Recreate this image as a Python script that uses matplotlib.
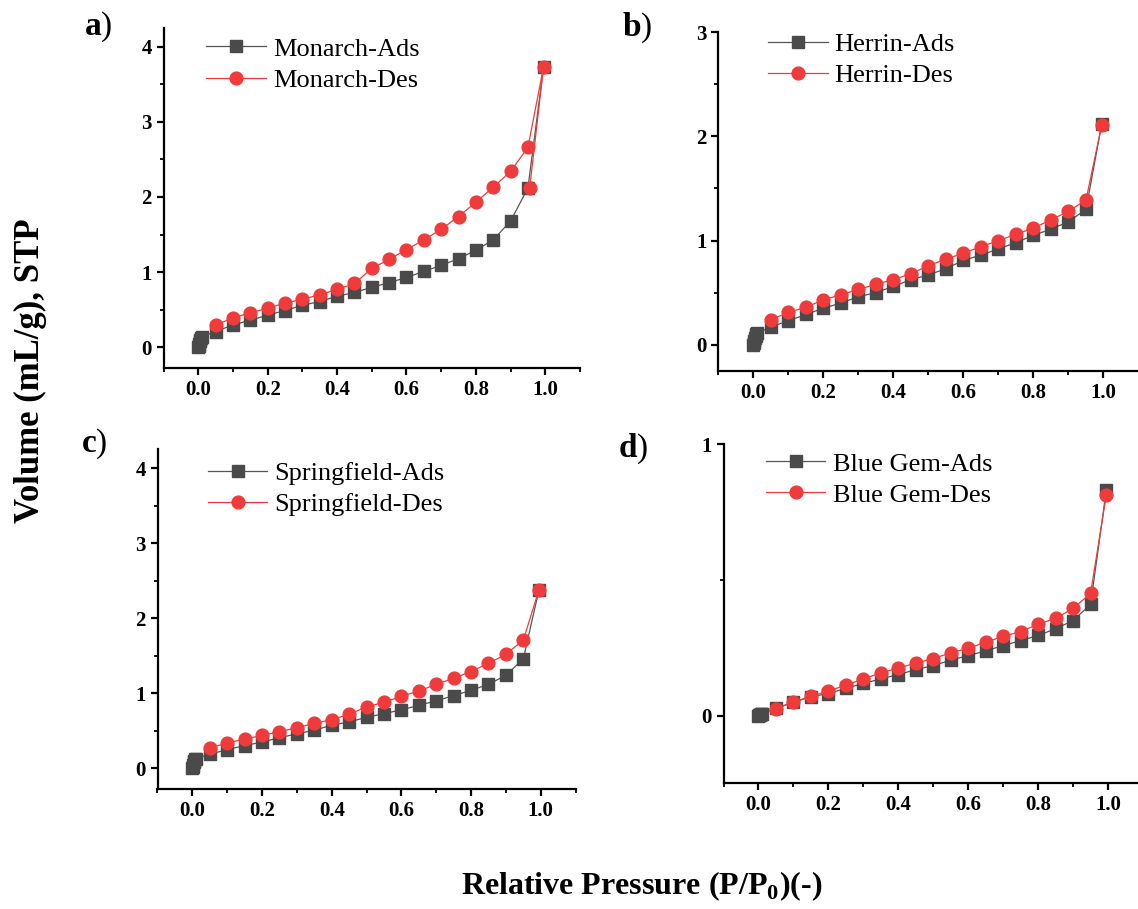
import matplotlib
matplotlib.use("Agg")
import matplotlib.pyplot as plt
from matplotlib.ticker import MultipleLocator

plt.rcParams['font.family'] = ['Liberation Serif', 'DejaVu Serif']
plt.rcParams['mathtext.fontset'] = 'custom'
plt.rcParams['mathtext.rm'] = 'Liberation Serif'
plt.rcParams['mathtext.bf'] = 'Liberation Serif:bold'

# relative pressure points
p_low = [0.0, 0.001, 0.002, 0.004, 0.006, 0.008, 0.01]
p_mid = [0.05, 0.10, 0.15, 0.20, 0.25, 0.30, 0.35, 0.40, 0.45, 0.50,
         0.55, 0.60, 0.65, 0.70, 0.75, 0.80, 0.85, 0.90, 0.95]
p_top = [0.995]
p_des = [0.995, 0.95, 0.90, 0.85, 0.80, 0.75, 0.70, 0.65, 0.60, 0.55,
         0.50, 0.45, 0.40, 0.35, 0.30, 0.25, 0.20, 0.15, 0.10, 0.05]

names = ["Monarch", "Herrin", "Springfield", "Blue Gem"]
letters = ["a", "b", "c", "d"]

monarch_ads = [0.0, 0.02, 0.05, 0.08, 0.10, 0.12, 0.14,
               0.21, 0.30, 0.36, 0.43, 0.49, 0.56, 0.61, 0.68, 0.73, 0.80,
               0.86, 0.93, 1.01, 1.09, 1.18, 1.29, 1.43, 1.68, 2.12, 3.73]
monarch_des_p = [0.955] + p_des
monarch_des = [2.12, 3.73, 2.66, 2.34, 2.13, 1.93, 1.74, 1.57, 1.43, 1.30, 1.17,
               1.05, 0.85, 0.77, 0.70, 0.64, 0.59, 0.52, 0.46, 0.39, 0.30]

herrin_ads = [0.0, 0.02, 0.04, 0.06, 0.08, 0.10, 0.11,
              0.17, 0.23, 0.29, 0.35, 0.40, 0.46, 0.50, 0.56, 0.625, 0.67,
              0.73, 0.81, 0.86, 0.92, 0.98, 1.05, 1.11, 1.18, 1.30, 2.12]
herrin_des = [2.11, 1.39, 1.28, 1.20, 1.12, 1.06, 1.00, 0.94, 0.88, 0.82,
              0.76, 0.68, 0.625, 0.58, 0.53, 0.48, 0.43, 0.36, 0.31, 0.24]

spring_ads = [0.0, 0.02, 0.05, 0.08, 0.10, 0.12, 0.13,
              0.19, 0.25, 0.305, 0.35, 0.41, 0.46, 0.51, 0.575, 0.62, 0.68,
              0.73, 0.78, 0.84, 0.90, 0.97, 1.04, 1.12, 1.24, 1.46, 2.38]
spring_des = [2.38, 1.71, 1.52, 1.40, 1.29, 1.20, 1.12, 1.03, 0.96, 0.88,
              0.82, 0.72, 0.65, 0.60, 0.54, 0.49, 0.44, 0.39, 0.34, 0.27]

bluegem_ads = [0.0, 0.001, 0.002, 0.003, 0.004, 0.005, 0.006,
               0.027, 0.049, 0.069, 0.081, 0.10, 0.118, 0.135, 0.151, 0.169, 0.184,
               0.204, 0.221, 0.238, 0.258, 0.276, 0.295, 0.32, 0.35, 0.41, 0.83]
bluegem_des = [0.813, 0.45, 0.395, 0.358, 0.337, 0.309, 0.292, 0.27, 0.248, 0.231,
               0.21, 0.193, 0.175, 0.157, 0.135, 0.112, 0.09, 0.071, 0.049, 0.025]

ads_p = p_low + p_mid + p_top
ads_list = [monarch_ads, herrin_ads, spring_ads, bluegem_ads]
des_p_list = [monarch_des_p, p_des, p_des, p_des]
des_list = [monarch_des, herrin_des, spring_des, bluegem_des]

ylims = [(-0.27, 4.25), (-0.25, 3.0), (-0.27, 4.25), (-0.25, 1.0)]

W, H = 1138, 909
# axes boxes in pixels: left, top, right, bottom
boxes = [(163.6, 27.7, 580.0, 367.7),
         (718.4, 32.3, 1138.5, 370.7),
         (157.5, 449.3, 575.6, 788.7),
         (723.5, 444.3, 1143.0, 783.3)]
leg_anchor = [(0.103, 0.972), (0.119, 1.0), (0.121, 0.964), (0.102, 0.977)]
letter_pos = [(84, 35), (622, 36), (81, 452), (618, 457)]

ads_color = '#4a4a4a'
des_color = '#ef3b3b'

fig = plt.figure(figsize=(W / 100, H / 100), dpi=100)

for i in range(4):
    l, t, r, b = boxes[i]
    ax = fig.add_axes([l / W, 1 - b / H, (r - l) / W, (b - t) / H])
    ax.plot(ads_p, ads_list[i], color='#555555', lw=0.9, marker='s', ms=8.5,
            mfc=ads_color, mec=ads_color, label=names[i] + "-Ads")
    ax.plot(des_p_list[i], des_list[i], color=des_color, lw=0.9, marker='o', ms=9.2,
            mfc=des_color, mec=des_color, label=names[i] + "-Des")
    ax.set_xlim(-0.1, 1.1)
    ax.set_ylim(*ylims[i])
    ax.xaxis.set_minor_locator(MultipleLocator(0.1))
    ax.yaxis.set_major_locator(MultipleLocator(1))
    ax.yaxis.set_minor_locator(MultipleLocator(0.5))
    ax.spines['top'].set_visible(False)
    ax.spines['right'].set_visible(False)
    ax.spines['left'].set_linewidth(1.6)
    ax.spines['bottom'].set_linewidth(1.6)
    ax.tick_params(which='major', direction='out', length=5, width=1.6, labelsize=15)
    ax.tick_params(which='minor', direction='out', length=3, width=1.3)
    ax.set_xticks([0.0, 0.2, 0.4, 0.6, 0.8, 1.0])
    ax.set_xticklabels(['0.0', '0.2', '0.4', '0.6', '0.8', '1.0'], fontweight='bold')
    for lab in ax.get_yticklabels():
        lab.set_fontweight('bold')
    ax.legend(loc='upper left', bbox_to_anchor=leg_anchor[i], frameon=False,
              fontsize=19, handlelength=2.24, handletextpad=0.27, labelspacing=0.29,
              borderpad=0, borderaxespad=0, numpoints=1)
    # bold letter, plain bracket
    fig.text(letter_pos[i][0] / W, 1 - letter_pos[i][1] / H,
             r"$\mathbf{" + letters[i] + "}$)", fontsize=24, ha='left', va='baseline')

fig.text(30 / W, 1 - 371 / H, "Volume (mL/g), STP", rotation=90, fontsize=25,
         fontweight='bold', ha='center', va='center')
fig.text(642 / W, 1 - 886 / H, r"Relative Pressure (P/P$_\mathbf{0}$)(-)", fontsize=23,
         fontweight='bold', ha='center', va='center')

fig.savefig("out.png", dpi=100)
